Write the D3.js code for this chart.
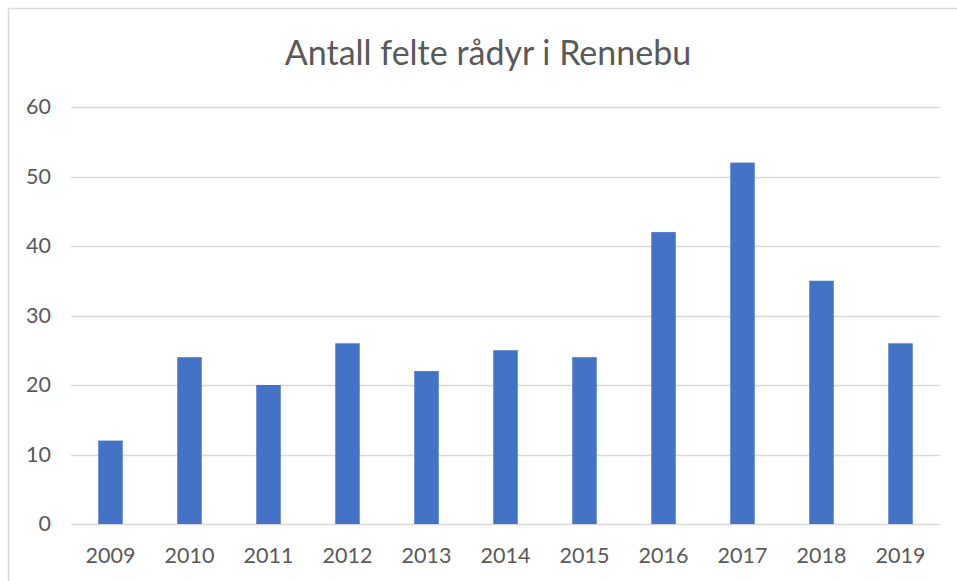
<!DOCTYPE html>
<html>
<head>
<meta charset="utf-8">
<script src="https://cdn.jsdelivr.net/npm/d3@7"></script>
<style>
  body { margin: 0; background: #fff; }
  text { font-family: Lato, "Open Sans", sans-serif; fill: #595959; }
</style>
</head>
<body>
<div id="chart"></div>
<script>
// data
var years = ['2009', '2010', '2011', '2012', '2013', '2014', '2015', '2016', '2017', '2018', '2019'];
var counts = [12, 24, 20, 26, 22, 25, 24, 42, 52, 35, 26];
var yTicks = [0, 10, 20, 30, 40, 50, 60];
var title = 'Antall felte rådyr i Rennebu';

var w = 957, h = 581;
var plotLeft = 71, plotRight = 940, plotTop = 107, plotBottom = 524;

var svg = d3.select('#chart')
  .append('svg')
    .attr('width', w)
    .attr('height', h);

// chart border (right + bottom edges fall outside the picture)
svg.append('rect')
  .attr('x', 8.5)
  .attr('y', 8.5)
  .attr('width', 980)
  .attr('height', 600)
  .attr('fill', 'none')
  .attr('stroke', '#d9d9d9')
  .attr('stroke-width', 1.5);

// scales
var x = d3.scaleBand()
  .domain(years)
  .range([plotLeft, plotRight])
  .paddingInner(0.69)
  .paddingOuter(0.345);

var y = d3.scaleLinear()
  .domain([0, 60])
  .range([plotBottom, plotTop]);

// gridlines
svg.append('g')
  .attr('class', 'grid')
  .selectAll('line')
  .data(yTicks)
  .enter()
  .append('line')
    .attr('x1', plotLeft)
    .attr('x2', plotRight)
    .attr('y1', function(d) { return Math.round(y(d)) + 0.5; })
    .attr('y2', function(d) { return Math.round(y(d)) + 0.5; })
    .attr('stroke', '#d9d9d9')
    .attr('stroke-width', 1.5);

// bars
svg.append('g')
  .selectAll('rect')
  .data(counts)
  .enter()
  .append('rect')
    .attr('x', function(d, i) { return x(years[i]); })
    .attr('y', function(d) { return y(d); })
    .attr('width', x.bandwidth())
    .attr('height', function(d) { return y(0) - y(d); })
    .attr('fill', '#4472c4');

// y axis labels
var yAxis = d3.axisLeft(y)
  .tickValues(yTicks)
  .tickSize(0)
  .tickPadding(0);

svg.append('g')
  .attr('transform', 'translate(51, 0)')
  .call(yAxis)
  .call(function(g) { g.select('.domain').remove(); })
  .selectAll('text')
    .attr('font-size', '21.5px')
    .attr('font-family', 'Lato, "Open Sans", sans-serif')
    .attr('fill', '#595959');

// x axis labels
var xAxis = d3.axisBottom(x)
  .tickSize(0)
  .tickPadding(0);

svg.append('g')
  .attr('transform', 'translate(0, 548)')
  .call(xAxis)
  .call(function(g) { g.select('.domain').remove(); })
  .selectAll('text')
    .attr('font-size', '21.5px')
    .attr('font-family', 'Lato, "Open Sans", sans-serif')
    .attr('fill', '#595959');

// title
svg.append('text')
  .text(title)
  .attr('x', 488)
  .attr('y', 65)
  .attr('text-anchor', 'middle')
  .attr('font-size', '34px')
  .attr('fill', '#595959');
</script>
</body>
</html>
